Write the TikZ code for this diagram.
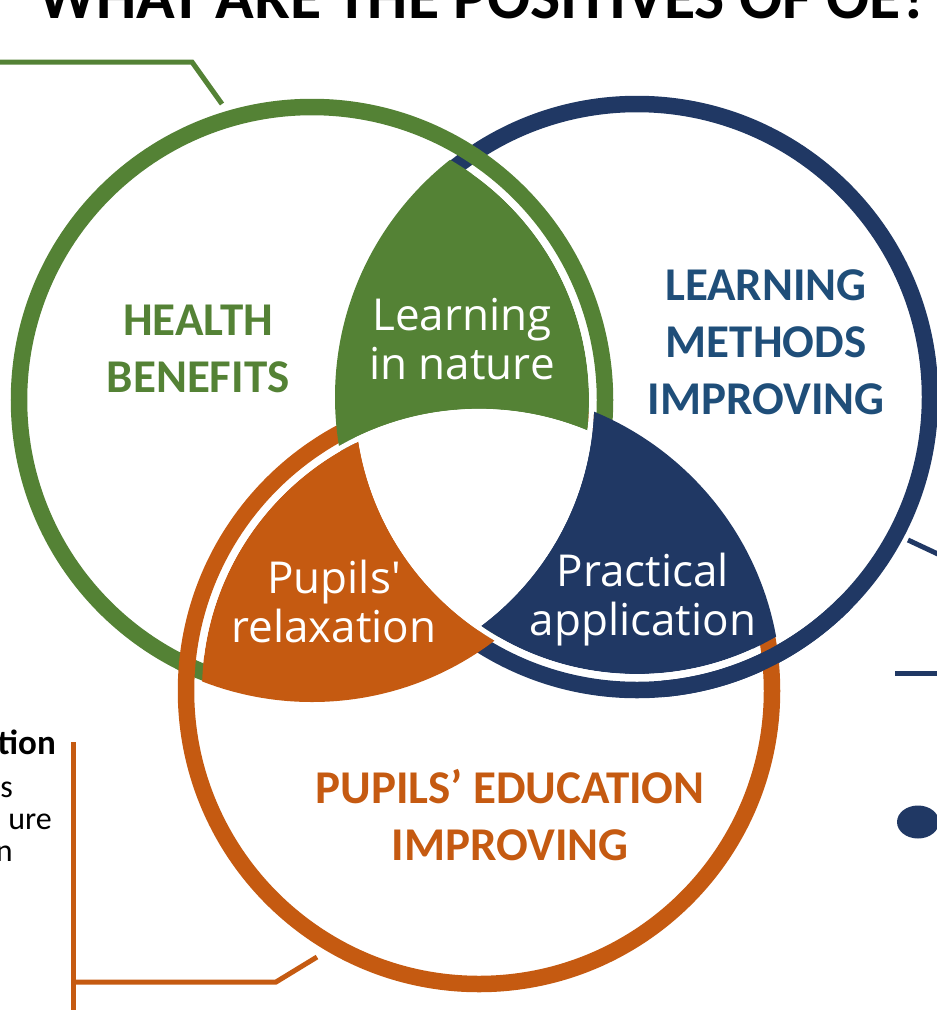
\documentclass[tikz,border=0pt]{standalone}
\usepackage{fontspec}
\setmainfont{Carlito}
\newfontfamily\lensfont{Open Sans}
\definecolor{vgreen}{HTML}{548235}
\definecolor{vblue}{HTML}{203864}
\definecolor{vorange}{HTML}{C55A11}
\definecolor{vbluetext}{HTML}{1F4E79}
\tikzset{
  ring/.style={line width=16.5pt},
  callout/.style={line width=5pt},
  gapline/.style={white, line width=5pt},
  setlabel/.style={font=\fontsize{47}{57}\selectfont\bfseries, align=center, inner sep=0pt},
  lenslabel/.style={font=\lensfont\fontsize{44}{49}\selectfont, text=white, align=center, inner sep=0pt},
  sidetext/.style={font=\fontsize{32}{36}\selectfont, anchor=base east, inner sep=0pt},
}
\begin{document}
\begin{tikzpicture}[x=1pt,y=-1pt]
\useasboundingbox (0,0) rectangle (937,1010);
\clip (0,0) rectangle (937,1010);

% circle centres
\coordinate (G) at (312,400);
\coordinate (B) at (637,397);
\coordinate (O) at (479,691);

% heading (only its lower part lies on the page)
\node[anchor=base west, inner sep=0pt] (title) at (38,18)
  {\resizebox{892pt}{!}{\bfseries WHAT ARE THE POSITIVES OF OE?}};

% rings
\draw[ring, vblue] (B) circle[radius=293pt];
\draw[ring, vgreen] (G) circle[radius=293pt];
\draw[ring, vorange] (O) circle[radius=293pt];
% blue ring passes over the orange one on the right
\draw[ring, vblue] ([shift={(-45:293pt)}]B) arc[start angle=-45, end angle=-85, radius=293pt];

% lens: green & blue
\begin{scope}
  \clip (G) circle[radius=277pt];
  \clip (B) circle[radius=302pt];
  \fill[vgreen, even odd rule] (0,0) rectangle (937,1010) (O) circle[radius=282pt];
\end{scope}
% lens: blue & orange
\begin{scope}
  \clip (B) circle[radius=277pt];
  \clip (O) circle[radius=302pt];
  \fill[vblue, even odd rule] (0,0) rectangle (937,1010) (G) circle[radius=282pt];
\end{scope}
% lens: orange & green
\begin{scope}
  \clip (O) circle[radius=277pt];
  \clip (G) circle[radius=302pt];
  \fill[vorange, even odd rule] (0,0) rectangle (937,1010) (B) circle[radius=282pt];
\end{scope}

% white gaps next to the lenses
\begin{scope}
  \clip (G) circle[radius=277pt];
  \draw[gapline] (O) circle[radius=279.6pt];
\end{scope}
\begin{scope}
  \clip (B) circle[radius=277pt];
  \draw[gapline] (G) circle[radius=279.6pt];
\end{scope}
\begin{scope}
  \clip (O) circle[radius=277pt];
  \draw[gapline] (B) circle[radius=279.6pt];
\end{scope}

% set labels
\node[setlabel, text=vgreen] (health) at (198,349) {HEALTH\\BENEFITS};
\node[setlabel, text=vbluetext] (methods) at (766,342) {LEARNING\\METHODS\\IMPROVING};
\node[setlabel, text=vorange] (education) at (510,815) {PUPILS’ EDUCATION\\IMPROVING};

% lens labels
\node[lenslabel] (nature) at (462,339) {Learning\\in nature};
\node[lenslabel] (practical) at (643,600) {Practical\\application};
\node[lenslabel] (relax) at (334,601) {Pupils'\\relaxation};

% green callout
\coordinate (g0) at (0,62);
\coordinate (g1) at (192,62);
\coordinate (g2) at (222,104);
\draw[callout, vgreen] (g0) -- (g1) -- (g2);

% blue callout
\coordinate (b0) at (908,540);
\coordinate (b1) at (940,555);
\coordinate (b2) at (895,673);
\coordinate (b3) at (940,673);
\draw[callout, vblue] (b0) -- (b1);
\draw[callout, vblue] (b2) -- (b3);
\fill[vblue] (918,822) ellipse[x radius=21pt, y radius=16.5pt];

% orange callout
\coordinate (o0) at (73,742);
\coordinate (o1) at (73,1012);
\coordinate (o2) at (73,982);
\coordinate (o3) at (276,982);
\coordinate (o4) at (317,957);
\draw[callout, vorange] (o0) -- (o1);
\draw[callout, vorange, line join=miter] (o2) -- (o3) -- (o4);

% text block on the left edge
\node[sidetext, font=\fontsize{35}{40}\selectfont\bfseries] (side0) at (56,754) {tion};
\node[sidetext] (side1) at (13,797) {s};
\node[sidetext] (side2) at (52,829) {ure};
\node[sidetext] (side3) at (13,861) {n};
\end{tikzpicture}
\end{document}
